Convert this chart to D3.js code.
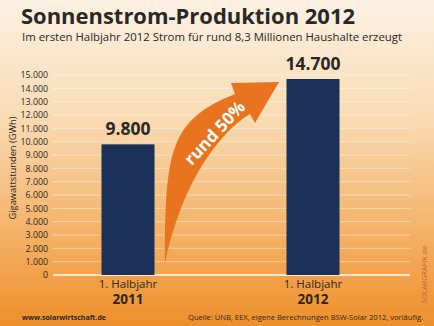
<!DOCTYPE html>
<html><head><meta charset="utf-8">
<script src="https://cdn.jsdelivr.net/npm/d3@7"></script>
<style>html,body{margin:0;padding:0;background:#fff}svg{display:block}</style>
</head><body>
<script>
const categories = ["2011", "2012"];
const periodLabels = ["1. Halbjahr", "1. Halbjahr"];
const values = [9800, 14700];
const valueLabels = ["9.800", "14.700"];
const yTicks = [0,1000,2000,3000,4000,5000,6000,7000,8000,9000,10000,11000,12000,13000,14000,15000];
const title = "Sonnenstrom-Produktion 2012";
const subtitle = "Im ersten Halbjahr 2012 Strom für rund 8,3 Millionen Haushalte erzeugt";
const yTitle = "Gigawattstunden (GWh)";
const arrowLabel = "rund 50%";
const footLeft = "www.solarwirtschaft.de";
const footRight = "Quelle: ÜNB, EEX, eigene Berechnungen BSW-Solar 2012, vorläufig.";
const credit = "SOLARGRAFIK.de";

const W = 434, H = 326;
const font = "'Open Sans', 'DejaVu Sans', sans-serif";
const dark = "#2a2827";
const svg = d3.select("body").append("svg").attr("width", W).attr("height", H);

const defs = svg.append("defs");
const g = defs.append("linearGradient").attr("id","bg").attr("x1",0).attr("y1",0).attr("x2",0).attr("y2",1);
g.append("stop").attr("offset","0%").attr("stop-color","#fcf1e3");
g.append("stop").attr("offset","35%").attr("stop-color","#f9dcb5");
g.append("stop").attr("offset","70%").attr("stop-color","#f4b36a");
g.append("stop").attr("offset","100%").attr("stop-color","#ee8f2a");
svg.append("rect").attr("width",W).attr("height",H).attr("fill","url(#bg)");

const y = d3.scaleLinear().domain([0,15000]).range([275,75]);
const x = d3.scaleBand().domain(categories).range([36,405]).paddingInner(0.7135).paddingOuter(0.354);

// gridlines
svg.append("g").selectAll("line").data(yTicks.filter(d=>d>0)).join("line")
  .attr("x1",53).attr("x2",410).attr("y1",d=>y(d)).attr("y2",d=>y(d))
  .attr("stroke","#fff").attr("stroke-opacity",0.75).attr("stroke-width",0.9)
  .attr("stroke-dasharray","1.2,0.8");

// y axis labels via d3 axis
const yAxis = svg.append("g").attr("transform","translate(53,0)")
  .call(d3.axisLeft(y).tickValues(yTicks).tickSize(0).tickPadding(5)
    .tickFormat(d=>d3.format(",")(d).replace(/,/g,".")));
yAxis.select(".domain").remove();
yAxis.selectAll("text").attr("font-family",font).attr("font-size",8.8).attr("fill",dark);

// baseline
svg.append("line").attr("x1",53).attr("x2",410).attr("y1",y(0)).attr("y2",y(0))
  .attr("stroke","#fff").attr("stroke-width",1.6);

// bars
svg.append("g").selectAll("rect").data(values).join("rect")
  .attr("x",(d,i)=>x(categories[i])).attr("width",x.bandwidth())
  .attr("y",d=>y(d)).attr("height",d=>y(0)-y(d)).attr("fill","#1b3159");

// value labels
svg.append("g").selectAll("text").data(values).join("text")
  .attr("x",(d,i)=>x(categories[i])+x.bandwidth()/2).attr("y",d=>y(d)-9)
  .attr("text-anchor","middle").attr("font-family",font).attr("font-weight",700)
  .attr("font-size",17.5).attr("fill",dark).text((d,i)=>valueLabels[i]);

// arrow
svg.append("path")
  .attr("d","M165,263 C165,150 170,120 235,94 L231,83 L279,82 L255,123 L250,114 C215,135 180,190 165,263 Z")
  .attr("fill","#e9741f");
svg.append("text").attr("transform","translate(219,137) rotate(-47)")
  .attr("text-anchor","middle").attr("font-family",font).attr("font-weight",700)
  .attr("font-size",17).attr("fill","#fff").text(arrowLabel);

// category labels
const cl = svg.append("g");
cl.selectAll("text.p").data(categories).join("text").attr("class","p")
  .attr("x",d=>x(d)+x.bandwidth()/2).attr("y",288).attr("text-anchor","middle")
  .attr("font-family",font).attr("font-size",11.5).attr("fill",dark).text((d,i)=>periodLabels[i]);
cl.selectAll("text.c").data(categories).join("text").attr("class","c")
  .attr("x",d=>x(d)+x.bandwidth()/2).attr("y",304).attr("text-anchor","middle")
  .attr("font-family",font).attr("font-weight",700).attr("font-size",13.5).attr("fill",dark).text(d=>d);

// titles
svg.append("text").attr("x",21).attr("y",24).attr("font-family",font).attr("font-weight",700)
  .attr("font-size",20.5).attr("fill",dark).attr("textLength",334).attr("lengthAdjust","spacingAndGlyphs").text(title);
svg.append("text").attr("x",22).attr("y",40.5).attr("font-family",font)
  .attr("font-size",11).attr("fill",dark).attr("textLength",380).attr("lengthAdjust","spacingAndGlyphs").text(subtitle);

// y title
svg.append("text").attr("transform","translate(16,168) rotate(-90)").attr("text-anchor","middle")
  .attr("font-family",font).attr("font-size",9.3).attr("fill",dark).text(yTitle);

// footer
svg.append("text").attr("x",22).attr("y",320).attr("font-family",font).attr("font-weight",700)
  .attr("font-size",7.8).attr("fill",dark).attr("textLength",84).attr("lengthAdjust","spacingAndGlyphs").text(footLeft);
svg.append("text").attr("x",423).attr("y",320).attr("text-anchor","end").attr("font-family",font)
  .attr("font-size",7.8).attr("fill",dark).attr("textLength",235).attr("lengthAdjust","spacingAndGlyphs").text(footRight);
svg.append("text").attr("transform","translate(427,303) rotate(-90)")
  .attr("font-family",font).attr("font-size",8).attr("fill","#c2642a")
  .attr("textLength",57).attr("lengthAdjust","spacingAndGlyphs").text(credit);
</script>
</body></html>
